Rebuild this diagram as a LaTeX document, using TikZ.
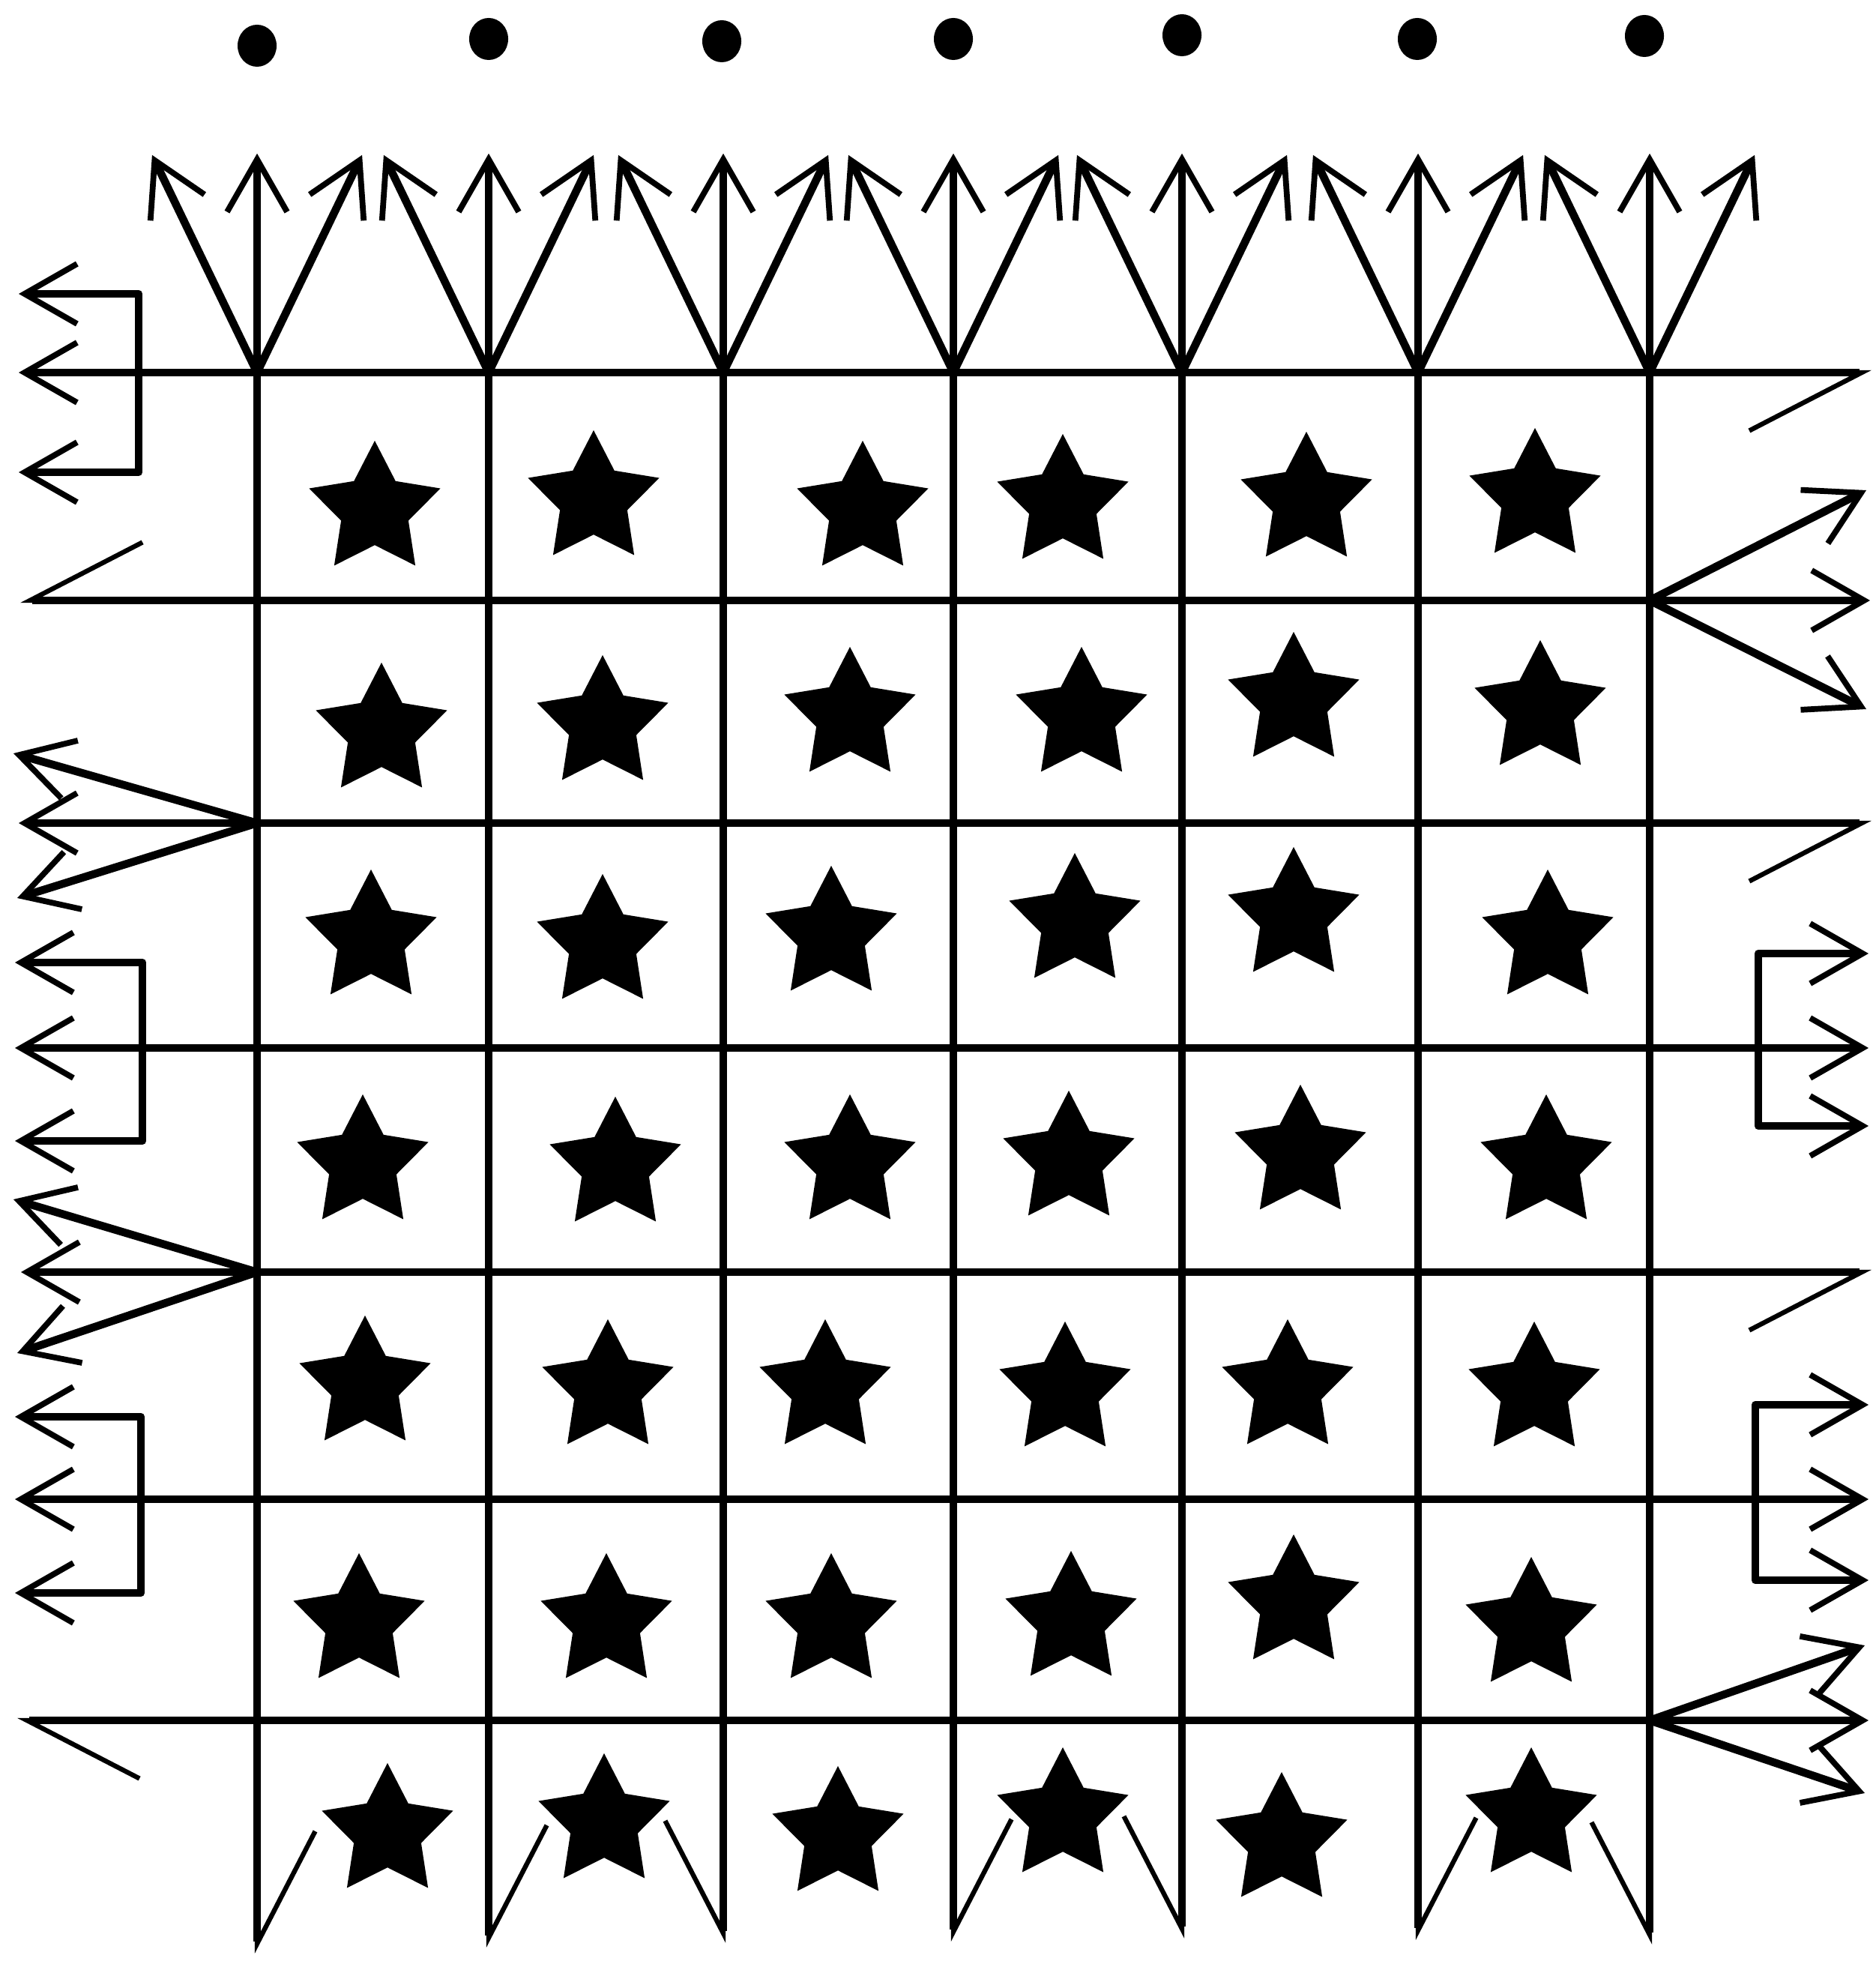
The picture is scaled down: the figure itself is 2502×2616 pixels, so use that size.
\documentclass[tikz,border=0pt]{standalone}
\usepackage{xcolor}
\usepackage{tikz}
\usetikzlibrary{shapes.geometric, arrows.meta, positioning}

\begin{document}
\begin{tikzpicture}[x=0.01cm, y=-0.01cm, line join=round]
\tikzset{barb/.tip={Straight Barb[length=0.7cm, width=0.8cm, line width=2.2pt]},
  halfl/.tip={Straight Barb[harpoon, length=1.5cm, width=1.55cm, line width=1.8pt]},
  halfr/.tip={Straight Barb[harpoon, swap, length=1.5cm, width=1.55cm, line width=1.8pt]}}
\tikzstyle{seed} = [ellipse, fill=black, minimum width=0.52cm, minimum height=0.56cm, inner sep=0pt]
\tikzstyle{starry} = [star, star points=5, star point ratio=1.95, fill=black, minimum size=1.84cm, inner sep=0pt]
\tikzstyle{rule} = [line width=3pt]
\tikzstyle{arrow} = [line width=3pt, -barb]

\useasboundingbox (0,0) rectangle (2502,2616);

% dots
\node (dot1) [seed] at (343,61) {};
\node (dot2) [seed] at (652,52) {};
\node (dot3) [seed] at (963,55) {};
\node (dot4) [seed] at (1272,52) {};
\node (dot5) [seed] at (1577,47) {};
\node (dot6) [seed] at (1891,52) {};
\node (dot7) [seed] at (2194,48) {};

% grid
\coordinate (top1) at (343,497);
\coordinate (top2) at (652,497);
\coordinate (top3) at (965,497);
\coordinate (top4) at (1272,497);
\coordinate (top5) at (1577,497);
\coordinate (top6) at (1892,497);
\coordinate (top7) at (2201,497);
\coordinate (foot1) at (343,2606);
\coordinate (foot2) at (652,2598);
\coordinate (foot3) at (965,2592);
\coordinate (foot4) at (1272,2590);
\coordinate (foot5) at (1577,2586);
\coordinate (foot6) at (1892,2588);
\coordinate (foot7) at (2201,2594);

\draw [rule, -halfl] (top1) -- (foot1);
\draw [rule, -halfl] (top2) -- (foot2);
\draw [rule, -halfr] (top3) -- (foot3);
\draw [rule, -halfl] (top4) -- (foot4);
\draw [rule, -halfr] (top5) -- (foot5);
\draw [rule, -halfl] (top6) -- (foot6);
\draw [rule, -halfr] (top7) -- (foot7);

\coordinate (left1) at (25,497);   \coordinate (right1) at (2497,497);
\coordinate (left2) at (27,801);   \coordinate (right2) at (2495,801);
\coordinate (left3) at (25,1098);  \coordinate (right3) at (2497,1098);
\coordinate (left4) at (20,1398);  \coordinate (right4) at (2493,1398);
\coordinate (left5) at (28,1697);  \coordinate (right5) at (2497,1697);
\coordinate (left6) at (20,2000);  \coordinate (right6) at (2493,2000);
\coordinate (left7) at (23,2295);  \coordinate (right7) at (2493,2295);

\draw [rule, barb-halfr] (left1) -- (right1);
\draw [rule, halfr-barb] (left2) -- (right2);
\draw [rule, barb-halfr] (left3) -- (right3);
\draw [rule, barb-barb] (left4) -- (right4);
\draw [rule, barb-halfr] (left5) -- (right5);
\draw [rule, barb-barb] (left6) -- (right6);
\draw [rule, halfl-barb] (left7) -- (right7);

% top fans
\coordinate [above=2.92cm of top1] (up1);
\coordinate [above left=2.9cm and 1.4cm of top1] (upl1);
\coordinate [above right=2.9cm and 1.4cm of top1] (upr1);
\coordinate [above=2.92cm of top2] (up2);
\coordinate [above left=2.9cm and 1.4cm of top2] (upl2);
\coordinate [above right=2.9cm and 1.4cm of top2] (upr2);
\coordinate [above=2.92cm of top3] (up3);
\coordinate [above left=2.9cm and 1.4cm of top3] (upl3);
\coordinate [above right=2.9cm and 1.4cm of top3] (upr3);
\coordinate [above=2.92cm of top4] (up4);
\coordinate [above left=2.9cm and 1.4cm of top4] (upl4);
\coordinate [above right=2.9cm and 1.4cm of top4] (upr4);
\coordinate [above=2.92cm of top5] (up5);
\coordinate [above left=2.9cm and 1.4cm of top5] (upl5);
\coordinate [above right=2.9cm and 1.4cm of top5] (upr5);
\coordinate [above=2.92cm of top6] (up6);
\coordinate [above left=2.9cm and 1.4cm of top6] (upl6);
\coordinate [above right=2.9cm and 1.4cm of top6] (upr6);
\coordinate [above=2.92cm of top7] (up7);
\coordinate [above left=2.9cm and 1.4cm of top7] (upl7);
\coordinate [above right=2.9cm and 1.4cm of top7] (upr7);

\path (top1) edge [arrow] (up1) edge [arrow] (upl1) edge [arrow] (upr1);
\path (top2) edge [arrow] (up2) edge [arrow] (upl2) edge [arrow] (upr2);
\path (top3) edge [arrow] (up3) edge [arrow] (upl3) edge [arrow] (upr3);
\path (top4) edge [arrow] (up4) edge [arrow] (upl4) edge [arrow] (upr4);
\path (top5) edge [arrow] (up5) edge [arrow] (upl5) edge [arrow] (upr5);
\path (top6) edge [arrow] (up6) edge [arrow] (upl6) edge [arrow] (upr6);
\path (top7) edge [arrow] (up7) edge [arrow] (upl7) edge [arrow] (upr7);

% side fans
\coordinate (fan3) at (343,1098);
\coordinate (fan3a) at (18,1005);
\coordinate (fan3b) at (23,1198);
\coordinate (fan5) at (343,1697);
\coordinate (fan5a) at (18,1600);
\coordinate (fan5b) at (23,1805);
\coordinate (fan2) at (2201,801);
\coordinate (fan2a) at (2490,654);
\coordinate (fan2b) at (2490,946);
\coordinate (fan7) at (2201,2295);
\coordinate (fan7a) at (2488,2195);
\coordinate (fan7b) at (2488,2392);

\path (fan3) edge [arrow] (fan3a) edge [arrow] (fan3b);
\path (fan5) edge [arrow] (fan5a) edge [arrow] (fan5b);
\path (fan2) edge [arrow] (fan2a) edge [arrow] (fan2b);
\path (fan7) edge [arrow] (fan7a) edge [arrow] (fan7b);

% brackets
\coordinate (bl1a) at (185,392);   \coordinate (bl1b) at (185,630);
\coordinate (bl1at) at (25,392);   \coordinate (bl1bt) at (25,630);
\coordinate (bl4a) at (190,1284);  \coordinate (bl4b) at (190,1522);
\coordinate (bl4at) at (20,1284);  \coordinate (bl4bt) at (20,1522);
\coordinate (bl6a) at (188,1890);  \coordinate (bl6b) at (188,2125);
\coordinate (bl6at) at (20,1890);  \coordinate (bl6bt) at (20,2125);
\coordinate (br4a) at (2346,1272); \coordinate (br4b) at (2346,1502);
\coordinate (br4at) at (2493,1272); \coordinate (br4bt) at (2493,1502);
\coordinate (br6a) at (2342,1874); \coordinate (br6b) at (2342,2108);
\coordinate (br6at) at (2493,1874); \coordinate (br6bt) at (2493,2108);

\draw [rule, barb-barb] (bl1at) -- (bl1a) -- (bl1b) -- (bl1bt);
\draw [rule, barb-barb] (bl4at) -- (bl4a) -- (bl4b) -- (bl4bt);
\draw [rule, barb-barb] (bl6at) -- (bl6a) -- (bl6b) -- (bl6bt);
\draw [rule, barb-barb] (br4at) -- (br4a) -- (br4b) -- (br4bt);
\draw [rule, barb-barb] (br6at) -- (br6a) -- (br6b) -- (br6bt);

% stars
\node (s11) [starry] at (500,680) {};
\node (s12) [starry] at (792,666) {};
\node (s13) [starry] at (1151,680) {};
\node (s14) [starry] at (1418,671) {};
\node (s15) [starry] at (1743,668) {};
\node (s16) [starry] at (2048,663) {};
\node (s21) [starry] at (509,976) {};
\node (s22) [starry] at (804,966) {};
\node (s23) [starry] at (1134,955) {};
\node (s24) [starry] at (1443,955) {};
\node (s25) [starry] at (1726,935) {};
\node (s26) [starry] at (2055,946) {};
\node (s31) [starry] at (495,1252) {};
\node (s32) [starry] at (804,1258) {};
\node (s33) [starry] at (1109,1247) {};
\node (s34) [starry] at (1434,1230) {};
\node (s35) [starry] at (1726,1222) {};
\node (s36) [starry] at (2065,1252) {};
\node (s41) [starry] at (484,1552) {};
\node (s42) [starry] at (821,1555) {};
\node (s43) [starry] at (1134,1552) {};
\node (s44) [starry] at (1426,1547) {};
\node (s45) [starry] at (1735,1539) {};
\node (s46) [starry] at (2063,1552) {};
\node (s51) [starry] at (487,1847) {};
\node (s52) [starry] at (811,1852) {};
\node (s53) [starry] at (1101,1852) {};
\node (s54) [starry] at (1421,1855) {};
\node (s55) [starry] at (1718,1852) {};
\node (s56) [starry] at (2047,1855) {};
\node (s61) [starry] at (479,2164) {};
\node (s62) [starry] at (809,2164) {};
\node (s63) [starry] at (1109,2164) {};
\node (s64) [starry] at (1429,2161) {};
\node (s65) [starry] at (1726,2139) {};
\node (s66) [starry] at (2043,2169) {};
\node (s71) [starry] at (517,2444) {};
\node (s72) [starry] at (806,2431) {};
\node (s73) [starry] at (1118,2448) {};
\node (s74) [starry] at (1418,2423) {};
\node (s75) [starry] at (1710,2456) {};
\node (s76) [starry] at (2043,2423) {};
\end{tikzpicture}
\end{document}
